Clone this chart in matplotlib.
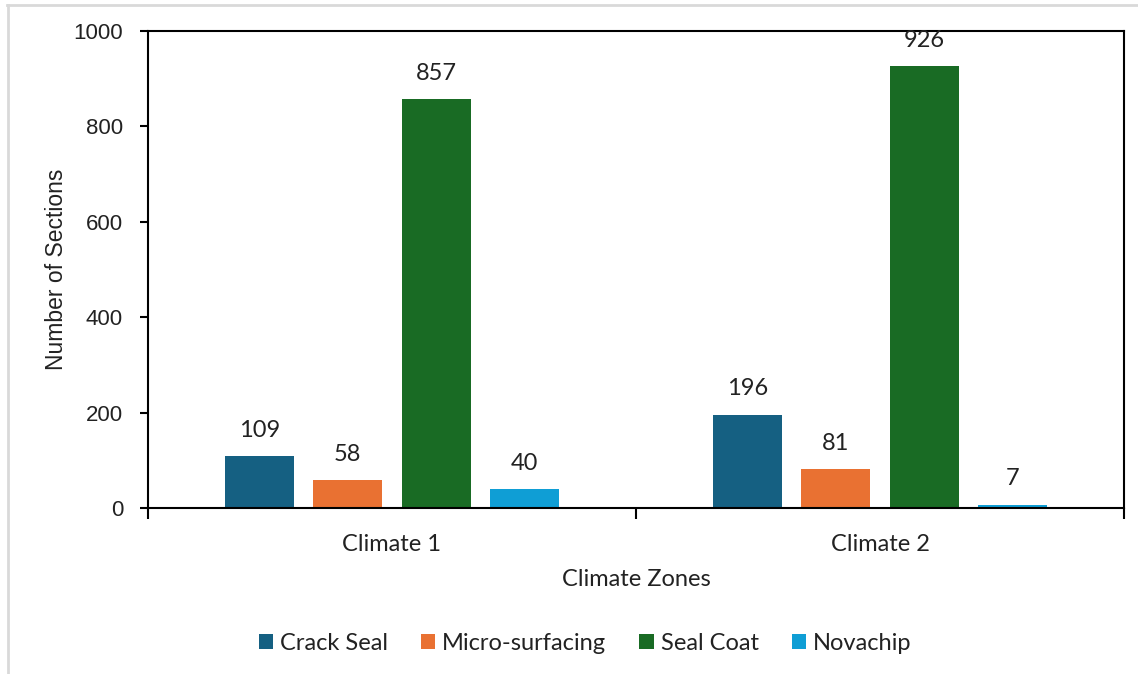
import matplotlib
matplotlib.use("Agg")
import matplotlib.pyplot as plt
import numpy as np
from matplotlib.lines import Line2D

categories = ["Climate 1", "Climate 2"]
series_names = ["Crack Seal", "Micro-surfacing", "Seal Coat", "Novachip"]
crack_seal = [109, 196]
micro_surfacing = [58, 81]
seal_coat = [857, 926]
novachip = [40, 7]
y_ticks = [0, 200, 400, 600, 800, 1000]

series = [crack_seal, micro_surfacing, seal_coat, novachip]
colors = ["#156082", "#E97132", "#196B24", "#0F9ED5"]

W, H = 1138, 674
fig = plt.figure(figsize=(W / 100, H / 100), dpi=100)
ax = fig.add_axes([148 / W, 1 - 508 / H, (1124 - 148) / W, (508 - 31) / H])

text_font = ["Lato", "DejaVu Sans"]
num_font = ["Liberation Sans", "DejaVu Sans"]

x = np.arange(len(categories))
width = 0.141
step = 0.181
for i, (name, vals, c) in enumerate(zip(series_names, series, colors)):
    off = (i - 1.5) * step
    bars = ax.bar(x + off, vals, width, color=c, label=name, zorder=2)
    for b, v in zip(bars, vals):
        ax.annotate(str(v), (b.get_x() + b.get_width() / 2, v),
                    xytext=(0, 11), textcoords="offset points",
                    ha="center", va="bottom", fontsize=17,
                    family=text_font, color="#222222")

ax.set_xlim(-0.5, 1.5)
ax.set_ylim(0, 1000)
ax.set_yticks(y_ticks)
ax.set_yticklabels([str(t) for t in y_ticks], fontsize=16, family=num_font, color="#222222")
ax.tick_params(axis="y", direction="out", length=6, width=1.5, pad=12)

ax.set_xticks(x)
ax.set_xticklabels(categories, fontsize=17, family=text_font, color="#222222")
ax.tick_params(axis="x", which="major", length=0, pad=19)
ax.set_xticks([-0.5, 0.5, 1.5], minor=True)
ax.tick_params(axis="x", which="minor", direction="out", length=8, width=1.5)

for s in ax.spines.values():
    s.set_linewidth(1.5)
    s.set_color("black")

ax.set_xlabel("Climate Zones", fontsize=17, family=text_font, color="#222222", labelpad=10)
ax.set_ylabel("Number of Sections", fontsize=16.5, family=num_font, color="#222222", labelpad=4)

leg = fig.legend(loc="center", bbox_to_anchor=(585 / W, 1 - 643 / H), ncol=4,
                 frameon=False, prop={"family": text_font, "size": 17},
                 handlelength=0.6, handleheight=0.6, handletextpad=0.3,
                 columnspacing=1.4)
for t in leg.get_texts():
    t.set_color("#222222")

fig.lines.append(Line2D([7 / W, 1], [1 - 5 / H, 1 - 5 / H], transform=fig.transFigure,
                        color="#d9d9d9", linewidth=2))
fig.lines.append(Line2D([8 / W, 8 / W], [1 - 5 / H, 0], transform=fig.transFigure,
                        color="#d9d9d9", linewidth=2))

fig.savefig("out.png", dpi=100, facecolor="white")
